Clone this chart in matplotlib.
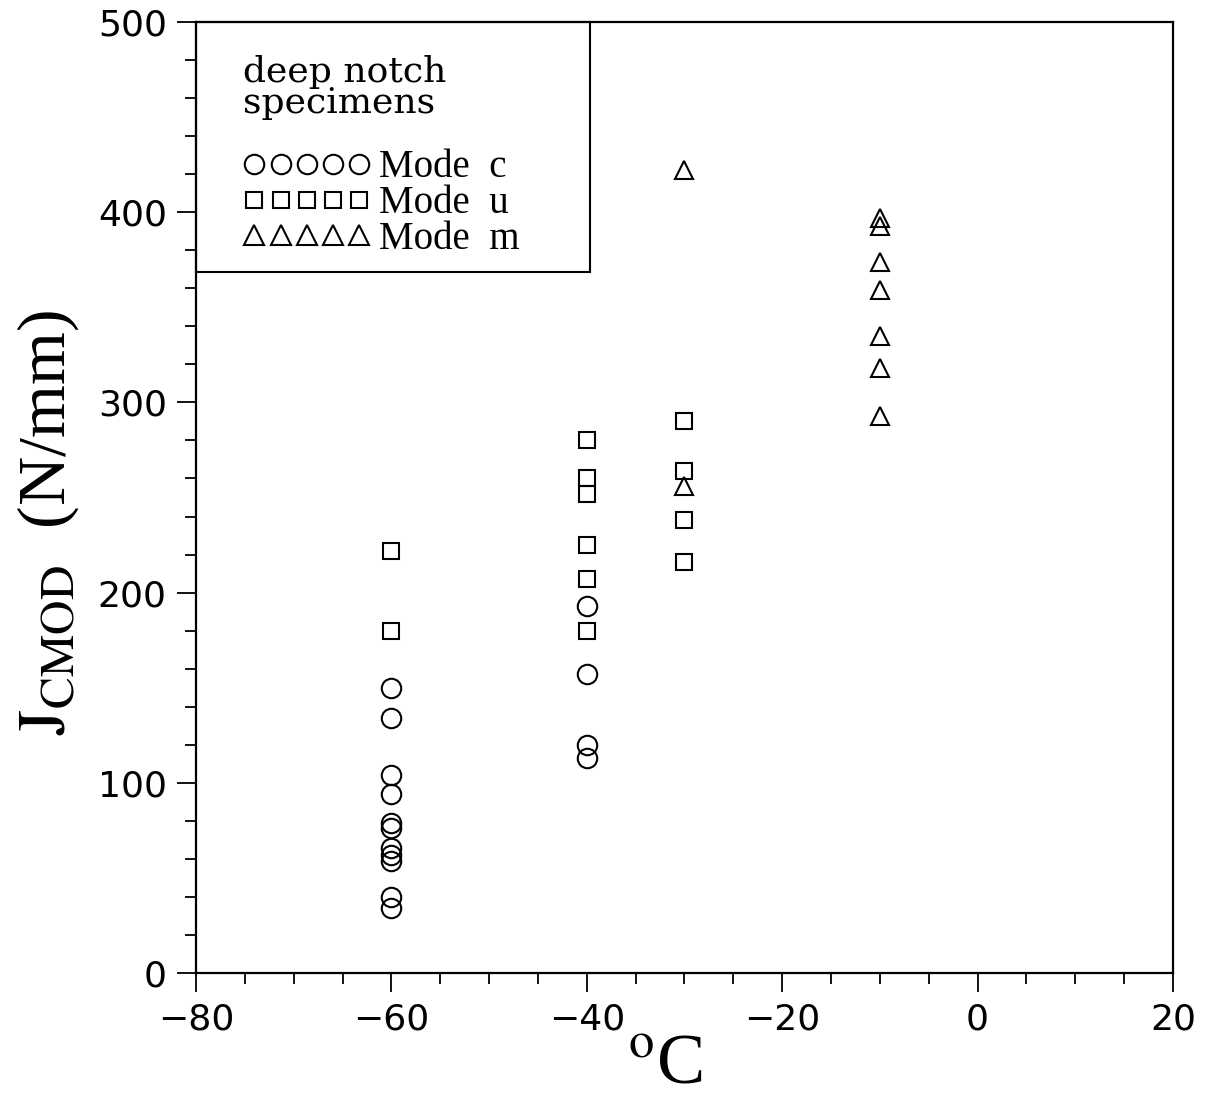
import matplotlib
matplotlib.use("Agg")
import matplotlib.pyplot as plt
from matplotlib.lines import Line2D
from matplotlib.patches import Rectangle
from matplotlib.ticker import MultipleLocator

# J_CMOD results of the deep notch specimens, grouped by fracture mode
temp_c = [-60] * 11 + [-40] * 4
j_c = [150, 134, 104, 94, 79, 76, 66, 62, 59, 40, 34,
       193, 157, 120, 113]

temp_u = [-60] * 2 + [-40] * 6 + [-30] * 4
j_u = [222, 180,
       280, 260, 252, 225, 207, 180,
       290, 264, 238, 216]

temp_m = [-30] * 2 + [-10] * 7
j_m = [422, 256,
       397, 393, 374, 359, 335, 318, 293]

mode_labels = ["Mode  c", "Mode  u", "Mode  m"]
mode_markers = ["o", "s", "^"]

plt.rcParams['mathtext.fontset'] = 'stix'

fig = plt.figure(figsize=(12.07, 10.99), dpi=100)
ax = fig.add_axes([0.1624, 0.1146, 0.8094, 0.8654])

style = dict(ls="none", mfc="none", mec="black", mew=1.5)
ax.plot(temp_c, j_c, marker="o", ms=14, **style)
ax.plot(temp_u, j_u, marker="s", ms=12, **style)
ax.plot(temp_m, j_m, marker="^", ms=13, **style)

ax.set_xlim(-80, 20)
ax.set_ylim(0, 500)
ax.xaxis.set_major_locator(MultipleLocator(20))
ax.xaxis.set_minor_locator(MultipleLocator(5))
ax.yaxis.set_major_locator(MultipleLocator(100))
ax.yaxis.set_minor_locator(MultipleLocator(20))
ax.tick_params(which="both", direction="out", top=False, right=False, width=1.3)
ax.tick_params(which="major", length=14, labelsize=26, pad=7)
ax.tick_params(which="minor", length=8)
for sp in ax.spines.values():
    sp.set_linewidth(1.6)

ax.set_ylabel(r"$\mathrm{J_{CMOD}}$  (N/mm)", fontsize=49, family="Liberation Serif")
ax.yaxis.set_label_coords(-0.118, 0.474)
ax.set_xlabel(r"$^{\mathrm{o}}$C", fontsize=52, family="Liberation Serif")
ax.xaxis.set_label_coords(0.48, -0.063)

# legend: text block in the upper left corner, boxed against the axes frame
handles = [Line2D([], [], marker=m, ms=12 if m == "s" else 14, **style)
           for m in mode_markers]
leg = ax.legend(handles, mode_labels, loc="upper left",
                bbox_to_anchor=(0.014, 1.0), borderaxespad=0,
                numpoints=5, handlelength=3.3, handletextpad=0.2,
                title="deep notch\nspecimens\n", alignment="left",
                prop={"family": "Liberation Serif", "size": 28},
                title_fontproperties={"family": "DejaVu Serif", "size": 26},
                frameon=False, labelspacing=-0.03, borderpad=0.85)
leg.get_title().set_linespacing(0.88)
ax.add_patch(Rectangle((0, 0.737), 0.403, 0.263, transform=ax.transAxes,
                       fill=False, lw=1.5, ec="black", clip_on=False))

fig.savefig("out.png", dpi=100)
